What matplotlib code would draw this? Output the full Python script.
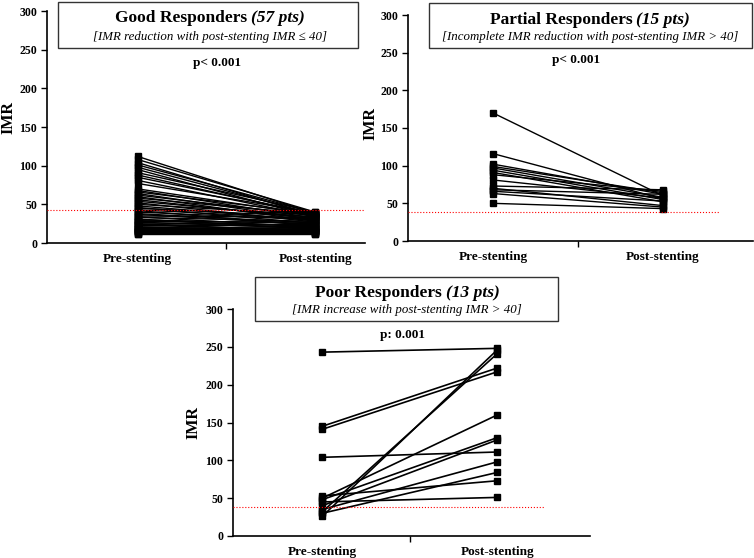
import matplotlib
matplotlib.use('Agg')
import matplotlib.pyplot as plt
from matplotlib.patches import Rectangle

plt.rcParams['font.family'] = ['Liberation Serif', 'DejaVu Serif']

categories = ['Pre-stenting', 'Post-stenting']

# Good responders (57 patients)
good_pre = [112, 108, 104, 101, 98, 95, 91, 88, 85, 81, 77,
            70, 68, 66, 64, 62, 60, 58, 56, 54, 52,
            50, 48, 46, 45, 43, 42, 40, 38, 37, 35,
            34, 33, 31, 30, 29, 28, 27, 26, 25, 24,
            23, 22, 21, 20, 19, 18, 18, 17, 16, 16,
            15, 14, 14, 13, 12, 12]
good_post = [38, 40, 35, 39, 37, 33, 40, 36, 38, 34, 39,
             36, 32, 38, 30, 35, 28, 37, 31, 33, 27,
             36, 29, 25, 34, 31, 22, 30, 26, 24, 33,
             20, 28, 18, 25, 22, 27, 19, 23, 15, 21,
             17, 24, 14, 19, 16, 20, 13, 18, 15, 12,
             17, 14, 16, 13, 12, 15]

# Partial responders (15 patients)
partial_pre = [170, 116, 102, 99, 97, 94, 91, 88, 81, 73, 70, 68, 66, 63, 50]
partial_post = [60, 56, 62, 64, 58, 55, 52, 66, 57, 68, 47, 62, 53, 45, 43]

# Poor responders (13 patients)
poor_pre = [243, 145, 141, 104, 26, 32, 53, 50, 45, 48, 40, 35, 30]
poor_post = [248, 222, 217, 111, 246, 241, 73, 160, 51, 130, 127, 98, 84]

W, H = 754, 558
fig = plt.figure(figsize=(W / 100, H / 100), dpi=100)


def px_axes(left, top, right, bottom):
    return fig.add_axes([left / W, 1 - bottom / H, (right - left) / W, (bottom - top) / H])


def draw_panel(ax, pre, post, xlim, cutoff, cut_end, ptext, px, py, lab_xy, lw=1.0):
    for a, b in zip(pre, post):
        ax.plot([0, 1], [a, b], color='black', lw=lw, marker='s', ms=5,
                mfc='black', mec='black', clip_on=False)
    ax.plot([xlim[0], cut_end], [cutoff, cutoff], color='red', ls=':', lw=0.8,
            clip_on=False, zorder=5)
    ax.set_xlim(*xlim)
    ax.set_ylim(0, 300)
    ax.set_yticks(range(0, 301, 50))
    ax.set_xticks([0, 1])
    ax.set_xticklabels(categories, fontsize=9.5, fontweight='bold')
    ax.set_xticks([0.5], minor=True)
    ax.tick_params(axis='x', which='major', length=0, pad=7)
    ax.tick_params(axis='x', which='minor', length=4, width=1, direction='out')
    ax.tick_params(axis='y', length=4, width=1, direction='out', pad=3)
    for lab in ax.get_yticklabels():
        lab.set_fontsize(8.5)
        lab.set_fontweight('bold')
    ax.set_ylabel('IMR', fontsize=11.5, fontweight='bold')
    ax.yaxis.set_label_coords(*lab_xy)
    for s in ['top', 'right']:
        ax.spines[s].set_visible(False)
    for s in ['left', 'bottom']:
        ax.spines[s].set_linewidth(1.2)
    ax.text(px, py, ptext, ha='center', va='center', fontsize=9.5, fontweight='bold')


def header(box, cx, ty, name, count, subtitle, sy):
    x0, y0, x1, y1 = box
    fig.patches.append(Rectangle((x0 / W, 1 - y1 / H), (x1 - x0) / W, (y1 - y0) / H,
                                 transform=fig.transFigure, fill=False,
                                 edgecolor='#333333', lw=1.0))
    r = fig.canvas.get_renderer()
    t1 = fig.text(0, 1 - ty / H, name, fontsize=12.5, fontweight='bold', va='center')
    t2 = fig.text(0, 1 - ty / H, count, fontsize=12.5, fontweight='bold',
                  style='italic', va='center')
    w1 = t1.get_window_extent(r).width
    w2 = t2.get_window_extent(r).width
    gap = 4
    start = cx - (w1 + gap + w2) / 2
    t1.set_x(start / W)
    t2.set_x((start + w1 + gap) / W)
    fig.text(cx / W, 1 - sy / H, subtitle, fontsize=9.3, style='italic',
             ha='center', va='center')


ax1 = px_axes(47, 11, 365, 243)
draw_panel(ax1, good_pre, good_post, (-0.51, 1.28), 43, 1.28, 'p< 0.001', 0.45, 233,
           (-0.096, 0.54))

ax2 = px_axes(408, 15, 753, 241)
draw_panel(ax2, partial_pre, partial_post, (-0.5, 1.53), 38, 1.33, 'p< 0.001', 0.49, 240,
           (-0.087, 0.52))

ax3 = px_axes(233, 309, 590, 536)
draw_panel(ax3, poor_pre, poor_post, (-0.51, 1.53), 38, 1.27, 'p: 0.001', 0.46, 266,
           (-0.087, 0.50), lw=1.2)

header((58, 2, 358, 48), 210, 18, 'Good Responders', '(57 pts)',
       '[IMR reduction with post-stenting IMR \u2264 40]', 37)
header((429, 3, 752, 48), 590, 20, 'Partial Responders', '(15 pts)',
       '[Incomplete IMR reduction with post-stenting IMR > 40]', 37)
header((255, 277, 558, 321), 407, 293, 'Poor Responders', '(13 pts)',
       '[IMR increase with post-stenting IMR > 40]', 310)

fig.savefig('out.png', dpi=100)
